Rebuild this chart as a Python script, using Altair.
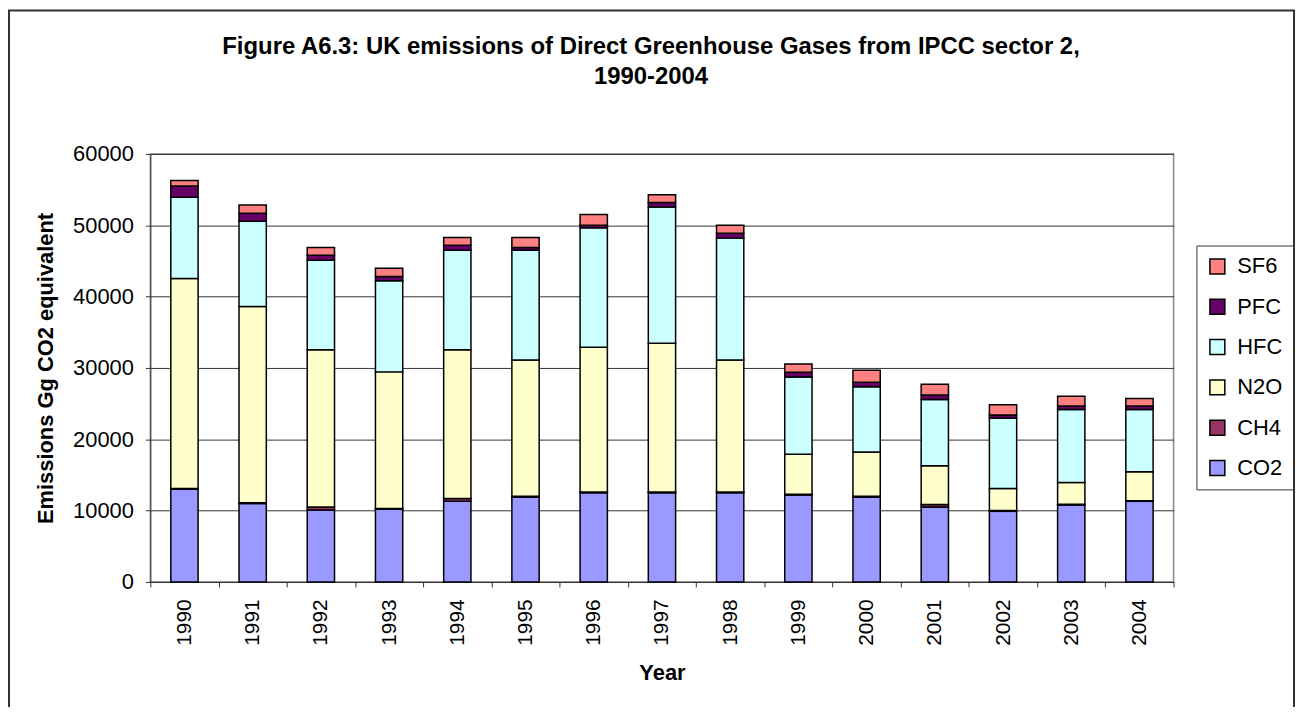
import altair as alt
import pandas as pd

years = [str(y) for y in range(1990, 2005)]
co2 = [13000, 11000, 10100, 10200, 11300, 11900, 12500, 12500, 12500, 12200, 11900, 10500, 9900, 10800, 11300]
ch4 = [100, 100, 400, 100, 400, 100, 100, 100, 100, 100, 100, 350, 100, 100, 100]
n2o = [29450, 27500, 22050, 19150, 20850, 19100, 20300, 20850, 18500, 5600, 6230, 5430, 3100, 3050, 4040]
hfc = [11390, 11960, 12540, 12760, 13940, 15400, 16770, 19120, 17100, 10840, 9120, 9300, 9900, 10240, 8750]
pfc = [1550, 1140, 700, 600, 700, 400, 330, 640, 700, 660, 650, 620, 400, 460, 460]
sf6 = [800, 1140, 1100, 1150, 1100, 1400, 1500, 1080, 1100, 1160, 1670, 1520, 1440, 1400, 1070]

gases = ["CO2", "CH4", "N2O", "HFC", "PFC", "SF6"]
series = [co2, ch4, n2o, hfc, pfc, sf6]
legend_order = ["SF6", "PFC", "HFC", "N2O", "CH4", "CO2"]
legend_colors = ["#FF8080", "#660066", "#CCFFFF", "#FFFFCC", "#993366", "#9999FF"]
y_ticks = [0, 10000, 20000, 30000, 40000, 50000, 60000]
title_lines = ["Figure A6.3: UK emissions of Direct Greenhouse Gases from IPCC sector 2,", "1990-2004"]

rows = []
for i, yr in enumerate(years):
    for k, (g, vals) in enumerate(zip(gases, series)):
        rows.append({"Year": yr, "Gas": g, "Value": vals[i], "order": k})
df = pd.DataFrame(rows)

W, H = 1028, 430
FONT = "Liberation Sans"

bars = alt.Chart(df).mark_bar(
    width=alt.RelativeBandSize(0.4), stroke="black", strokeWidth=1.5
).encode(
    x=alt.X("Year:N", title="Year", sort=years,
            scale=alt.Scale(paddingInner=0, paddingOuter=0),
            axis=alt.Axis(labelAngle=-90, tickBand="extent", tickSize=5, labelPadding=12,
                          labelFontSize=21, titleFontSize=22, titlePadding=17,
                          domainColor="#333333", tickColor="#333333", grid=False)),
    y=alt.Y("Value:Q", stack="zero", title="Emissions Gg CO2 equivalent",
            scale=alt.Scale(domain=[0, 60000], nice=False),
            axis=alt.Axis(values=y_ticks, format="d", tickSize=5, labelPadding=12,
                          labelFontSize=22, titleFontSize=22, titlePadding=15,
                          domainColor="#333333", tickColor="#333333",
                          gridColor="#333333", gridWidth=1)),
    color=alt.Color("Gas:N", scale=alt.Scale(domain=legend_order, range=legend_colors),
                    legend=alt.Legend(title=None, orient="none", legendX=1051, legendY=92,
                                      symbolType="square", symbolSize=225,
                                      symbolStrokeColor="black", symbolStrokeWidth=1.5,
                                      labelFontSize=22, labelFont=FONT, labelOffset=9,
                                      rowPadding=18.5, padding=10,
                                      strokeColor="#333333", fillColor="white")),
    order=alt.Order("order:Q", sort="ascending"),
)

one = pd.DataFrame({"a": [0]})

frame = alt.Chart(one).mark_rect(
    fill="white", fillOpacity=0, stroke="#333333", strokeWidth=2, clip=False
).encode(
    x=alt.value(-142), x2=alt.value(1149), y=alt.value(-144), y2=alt.value(H + 200)
)

title = alt.Chart(one).mark_text(
    text=title_lines, fontSize=24, fontWeight="bold", font=FONT,
    align="center", baseline="alphabetic", lineHeight=30, color="black"
).encode(x=alt.value(503), y=alt.value(-100))

chart = alt.layer(frame, bars, title).properties(
    width=W, height=H,
    autosize="none",
    padding={"left": 143, "top": 145, "right": 124, "bottom": 124},
).configure(
    font=FONT,
).configure_axis(
    labelFont=FONT, titleFont=FONT, labelColor="black", titleColor="black",
    titleFontWeight="bold",
).configure_view(
    stroke="#888888", strokeWidth=1.5
)

chart.save("out.html", embed_options={"renderer": "svg", "actions": False})
